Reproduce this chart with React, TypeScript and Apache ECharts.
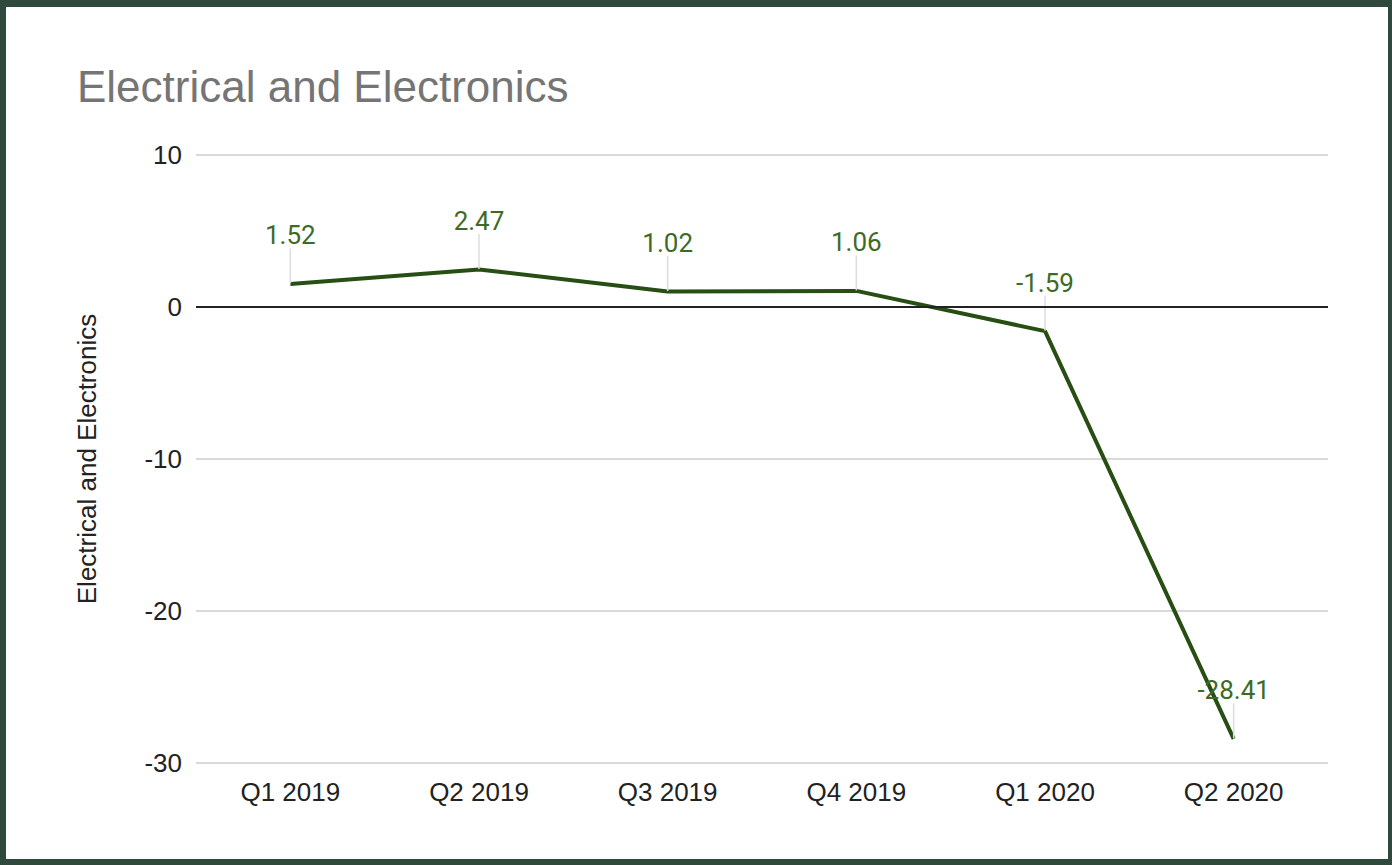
import React, { useEffect, useRef } from "react";
import * as echarts from "echarts";

const categories = ["Q1 2019", "Q2 2019", "Q3 2019", "Q4 2019", "Q1 2020", "Q2 2020"];
const values = [1.52, 2.47, 1.02, 1.06, -1.59, -28.41];
const yTicks = { min: -30, max: 10, interval: 10 };
const title = "Electrical and Electronics";

export default function App() {
  const ref = useRef<HTMLDivElement>(null);
  useEffect(() => {
    if (!ref.current) return;
    const chart = echarts.init(ref.current, null, { renderer: "svg" });
    chart.setOption({
      animation: false,
      backgroundColor: "#ffffff",
      title: {
        text: title,
        left: 71,
        top: 57,
        padding: 0,
        textStyle: { fontFamily: "Liberation Sans, Arial", fontSize: 44, fontWeight: "normal", color: "#757575" },
      },
      grid: { left: 190, right: 60, top: 148, bottom: 96 },
      xAxis: {
        type: "category",
        data: categories,
        boundaryGap: true,
        axisLine: { show: false },
        axisTick: { show: false },
        axisLabel: { fontFamily: "Liberation Sans, Arial", fontSize: 26, color: "#222", margin: 16 },
      },
      yAxis: {
        type: "value",
        min: yTicks.min,
        max: yTicks.max,
        interval: yTicks.interval,
        name: title,
        nameLocation: "middle",
        nameGap: 96,
        nameTextStyle: { fontFamily: "Liberation Sans, Arial", fontSize: 26, color: "#222" },
        axisLine: { show: false },
        axisTick: { show: false },
        axisLabel: { fontFamily: "Liberation Sans, Arial", fontSize: 26, color: "#222", margin: 14 },
        splitLine: { lineStyle: { color: "#cccccc", width: 1.5 } },
      },
      series: [
        {
          type: "line",
          data: values,
          symbol: "circle",
          symbolSize: 1,
          showSymbol: true,
          lineStyle: { color: "#274e13", width: 4 },
          itemStyle: { color: "rgba(0,0,0,0)", borderWidth: 0 },
          label: {
            show: true,
            position: "top",
            distance: 5,
            fontFamily: "Roboto, Liberation Sans",
            fontSize: 26,
            color: "#3d6b26",
          },
          labelLayout: { dy: -30 },
          labelLine: { show: true, lineStyle: { color: "#dddddd", width: 1.5 } },
          markLine: {
            silent: true,
            symbol: "none",
            label: { show: false },
            lineStyle: { color: "#222", width: 2, type: "solid" },
            data: [{ yAxis: 0 }],
          },
        },
      ],
    });
    return () => chart.dispose();
  }, []);
  return (
    <div style={{ position: "fixed", left: 0, top: 0, width: 1392, height: 865, background: "#2f4a3c" }}>
      <div ref={ref} style={{ position: "absolute", left: 6, top: 7, width: 1382, height: 852, background: "#fff" }} />
    </div>
  );
}
